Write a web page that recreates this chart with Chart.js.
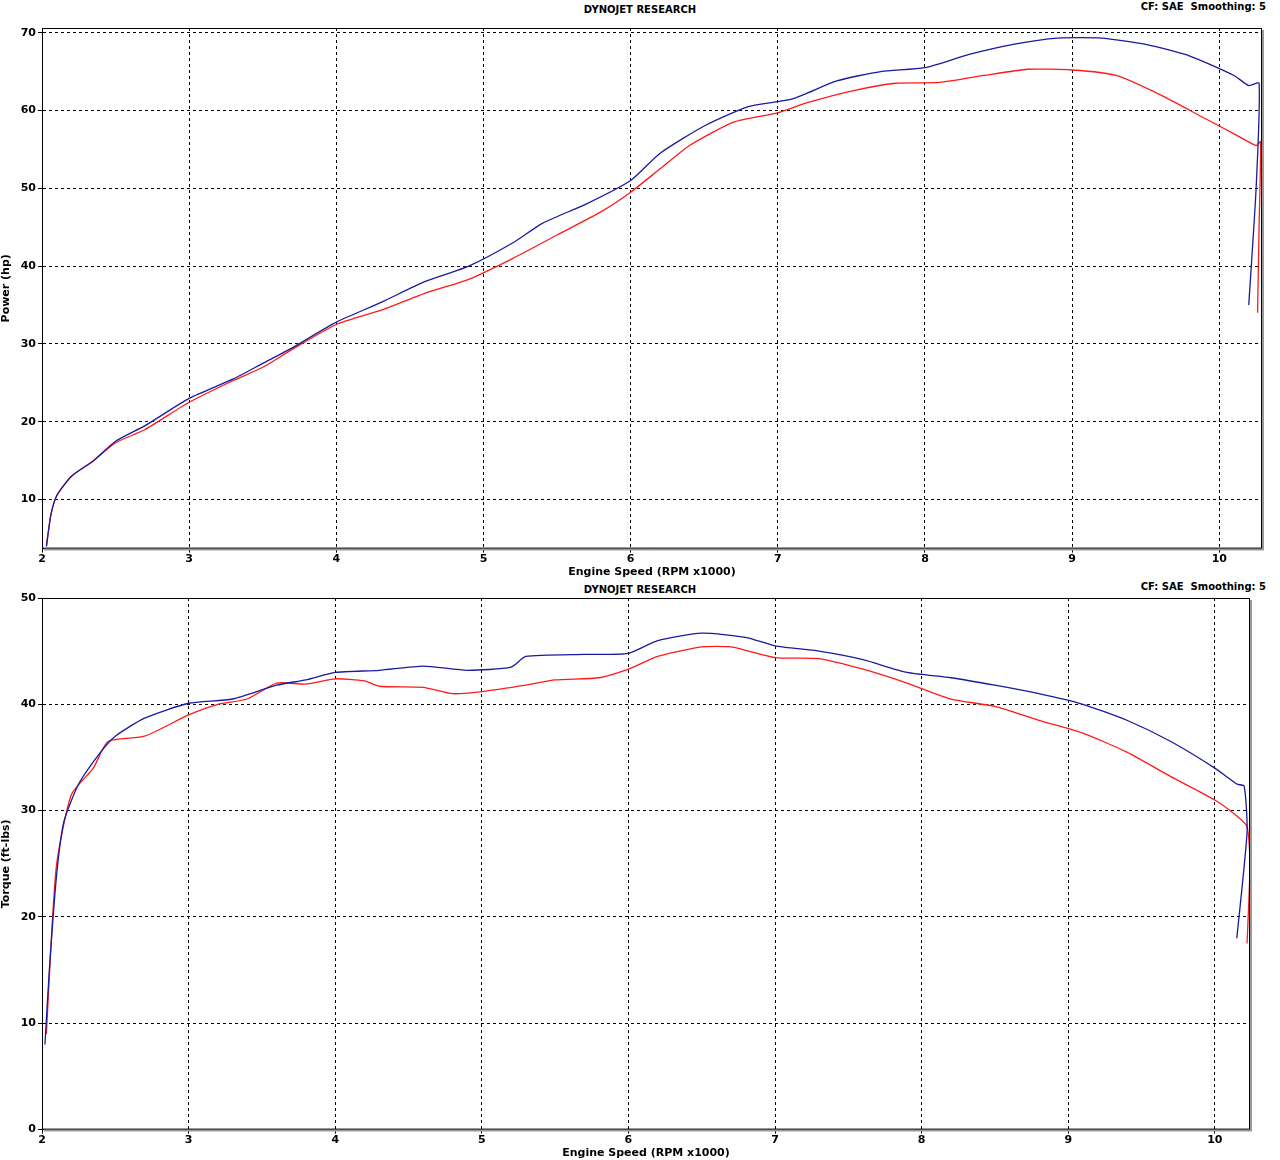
<!DOCTYPE html>
<html><head><meta charset="utf-8">
<script src="https://cdn.jsdelivr.net/npm/chart.js@4/dist/chart.umd.min.js"></script>
<style>
body{margin:0;background:#fff;width:1280px;height:1160px;position:relative;overflow:hidden;font-family:"DejaVu Sans",Verdana,sans-serif}
.t{position:absolute;font-size:10px;font-weight:bold;color:#000}
.c{position:absolute;left:0}
</style></head><body>
<div class="t" style="left:0;width:1280px;text-align:center;top:4px">DYNOJET RESEARCH</div>
<div class="t" style="right:14px;top:1px">CF: SAE&nbsp; Smoothing: 5</div>
<div class="t" style="left:0;width:1280px;text-align:center;top:584px">DYNOJET RESEARCH</div>
<div class="t" style="right:14px;top:581px">CF: SAE&nbsp; Smoothing: 5</div>
<div class="c" style="top:0;width:1280px;height:580px"><canvas id="c1"></canvas></div>
<div class="c" style="top:580px;width:1280px;height:580px"><canvas id="c2"></canvas></div>
<script>
const xTicks=[2,3,4,5,6,7,8,9,10];
const powerTicks=[10,20,30,40,50,60,70];
const torqueTicks=[0,10,20,30,40,50];
const powerBlue=[[2.03,4],[2.06,8],[2.1,10.5],[2.2,13],[2.35,15],[2.5,17.5],[2.7,19.5],[3,23],[3.3,25.5],[3.5,27.5],[3.7,29.5],[4,32.8],[4.3,35.3],[4.6,38],[4.9,40],[5.2,43],[5.4,45.5],[5.7,48],[6,51],[6.2,54.5],[6.5,58],[6.8,60.5],[7.1,61.5],[7.4,63.8],[7.7,65],[8,65.5],[8.3,67.2],[8.6,68.5],[8.9,69.3],[9.2,69.3],[9.5,68.5],[9.8,67],[10.1,64.5],[10.2,63.2],[10.27,63.5],[10.25,50],[10.2,35]];
const powerRed=[[2.03,4],[2.06,8],[2.1,10.5],[2.2,13],[2.35,15],[2.5,17.3],[2.7,19],[3,22.5],[3.3,25.3],[3.5,27],[3.7,29.3],[4,32.5],[4.3,34.3],[4.6,36.5],[4.9,38.3],[5.2,41],[5.5,44],[5.8,47],[6,49.5],[6.2,52.5],[6.4,55.5],[6.7,58.5],[7,59.7],[7.2,61],[7.5,62.5],[7.8,63.5],[8.1,63.6],[8.4,64.5],[8.7,65.3],[9,65.2],[9.3,64.5],[9.6,62],[9.9,59],[10.1,57],[10.25,55.5],[10.28,56],[10.27,45],[10.26,34]];
const torqueBlue=[[2.02,8],[2.05,15],[2.1,24],[2.15,29],[2.25,32.5],[2.4,35.5],[2.5,37],[2.7,38.7],[3,40.1],[3.3,40.5],[3.6,41.8],[3.8,42.3],[4,43],[4.3,43.2],[4.6,43.6],[4.9,43.2],[5.2,43.5],[5.3,44.5],[5.7,44.7],[6,44.8],[6.2,46],[6.5,46.7],[6.8,46.3],[7,45.5],[7.3,45],[7.6,44.2],[7.9,43],[8.2,42.5],[8.5,41.8],[8.8,41],[9.1,40],[9.4,38.5],[9.7,36.5],[10,34],[10.15,32.5],[10.2,32.3],[10.22,28],[10.15,18]];
const torqueRed=[[2.03,9],[2.06,17],[2.1,25],[2.2,31.5],[2.35,34],[2.45,36.5],[2.7,37],[3,39],[3.2,40],[3.4,40.5],[3.6,42],[3.8,41.9],[4,42.4],[4.2,42.2],[4.3,41.7],[4.6,41.6],[4.8,41],[5,41.2],[5.3,41.8],[5.5,42.3],[5.8,42.5],[6,43.3],[6.2,44.5],[6.5,45.4],[6.7,45.4],[7,44.4],[7.3,44.3],[7.6,43.3],[7.9,42],[8.2,40.5],[8.5,39.8],[8.8,38.5],[9.1,37.3],[9.4,35.5],[9.7,33.2],[10,31],[10.15,29.5],[10.22,28.5],[10.24,25],[10.22,17.5]];
const pts=a=>a.map(p=>({x:p[0],y:p[1]}));
const F={family:"'DejaVu Sans',Verdana,sans-serif",size:11,weight:'bold'};
const frame={id:'frame',afterDraw(c){const a=c.chartArea,x=c.ctx;x.save();x.strokeStyle='#000';x.lineWidth=1;x.strokeRect(a.left+0.5,a.top+0.5,a.right-a.left-1,a.bottom-a.top-1);x.strokeStyle='#999';x.lineWidth=2;x.beginPath();x.moveTo(a.right+1,a.top+2);x.lineTo(a.right+1,a.bottom+1);x.lineTo(a.left+2,a.bottom+1);x.stroke();x.restore();}};
function mk(id,blue,red,yTicks,ymin,ymax,xmax,yTitle,pad){
 new Chart(document.getElementById(id),{type:'scatter',plugins:[frame],
  data:{datasets:[{data:pts(blue),showLine:true,borderColor:'#1a1aa0',borderWidth:1.3,pointRadius:0,tension:0.2},
   {data:pts(red),showLine:true,borderColor:'#ff1a1a',borderWidth:1.3,pointRadius:0,tension:0.2}]},
  options:{responsive:true,maintainAspectRatio:false,animation:false,
   layout:{padding:pad},
   plugins:{legend:{display:false},tooltip:{enabled:false}},
   scales:{
    x:{type:'linear',min:2,max:xmax,afterBuildTicks:s=>{s.ticks=xTicks.map(v=>({value:v}))},
     ticks:{color:'#000',font:F,padding:0,maxRotation:0},
     grid:{color:'#000',tickLength:4},border:{color:'#000',width:1,dash:[3,3]},
     title:{display:true,text:'Engine Speed (RPM x1000)',color:'#000',font:F,padding:{top:0,bottom:0}}},
    y:{min:ymin,max:ymax,afterBuildTicks:s=>{s.ticks=yTicks.map(v=>({value:v}))},
     afterFit:s=>{s.width=42},
     ticks:{color:'#000',font:F,padding:2},
     grid:{color:'#000',tickLength:4},border:{color:'#000',width:1,dash:[3,3]},
     title:{display:true,text:yTitle,color:'#000',font:F,padding:0}}}}});
}
mk('c1',powerBlue,powerRed,powerTicks,3.7,70.6,10.29,'Power (hp)',{top:28,right:18,left:0,bottom:1});
mk('c2',torqueBlue,torqueRed,torqueTicks,0,50,10.24,'Torque (ft-lbs)',{top:18,right:30,left:0,bottom:0});
</script></body></html>
